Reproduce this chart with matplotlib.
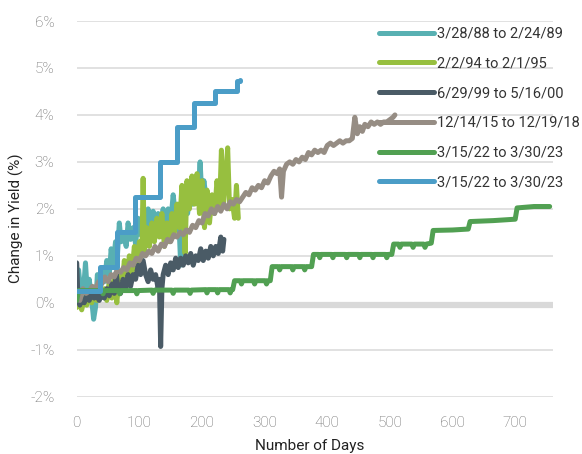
import matplotlib.pyplot as plt

# yield change (%) by trading day
teal_days = [0, 3, 6, 10, 14, 17, 20, 24, 27, 30, 33, 36, 40, 44, 48, 52, 55, 58, 62, 65,
             68, 71, 75, 79, 82, 86, 90, 94, 98, 102, 106, 110, 114, 118, 122, 126, 130, 134,
             138, 142, 146, 150, 154, 158, 162, 166, 169, 173, 177, 181, 185, 189, 193, 197,
             200, 203, 206]
teal_vals = [0.2, 0.7, 0.3, 0.1, 0.85, 0.2, 0.5, 0.05, -0.35, -0.1, 0.6, 0.3, 0.7, 0.45, 0.9,
             0.6, 1.15, 0.8, 1.3, 1.0, 1.7, 1.3, 1.5, 1.2, 1.7, 1.35, 1.6, 1.25, 1.8, 1.45, 1.75,
             1.5, 2.0, 1.55, 1.95, 1.6, 1.9, 1.65, 2.0, 1.6, 2.0, 1.7, 2.3, 1.8, 2.1, 0.8, 1.9,
             2.15, 1.9, 2.3, 2.1, 2.4, 2.2, 3.0, 2.2, 2.6, 2.3]

lgreen_days = [0, 4, 8, 12, 16, 20, 24, 28, 32, 36, 40, 44, 48, 52, 56, 60, 64, 68, 72, 76,
               80, 84, 88, 92, 96, 100, 104, 106, 108, 112, 116, 120, 124, 128, 132, 136, 140,
               144, 148, 152, 156, 160, 164, 168, 171, 173, 176, 180, 184, 188, 192, 196, 200,
               204, 208, 212, 216, 220, 224, 228, 231, 234, 238, 241, 244, 248, 252, 255, 258]
lgreen_vals = [-0.1, 0.0, -0.15, 0.1, -0.05, 0.2, 0.0, 0.3, 0.05, 0.4, 0.15, 0.3, 0.05, 0.45,
               0.1, 0.5, 0.0, 0.6, 0.3, 0.9, 0.5, 1.0, 0.6, 1.2, 0.7, 1.3, 1.0, 2.65, 1.1, 1.6,
               1.2, 1.7, 1.3, 1.8, 1.4, 1.9, 1.2, 1.7, 1.3, 1.9, 1.5, 2.1, 1.6, 2.5, 1.7, 1.05,
               2.6, 2.0, 2.7, 2.1, 2.75, 1.9, 2.6, 1.6, 2.4, 1.7, 2.3, 1.9, 2.6, 2.0, 3.25, 2.1,
               2.7, 3.3, 2.0, 2.2, 1.8, 2.5, 1.8]

dark_days = [0, 2, 5, 8, 12, 16, 20, 24, 28, 32, 36, 40, 44, 48, 52, 56, 60, 63, 66, 70, 74,
             78, 82, 86, 90, 94, 98, 102, 106, 110, 114, 118, 122, 126, 130, 132, 134, 136,
             138, 142, 146, 150, 154, 158, 162, 166, 170, 174, 178, 182, 186, 190, 194, 198,
             202, 206, 210, 214, 218, 222, 226, 230, 233, 235]
dark_vals = [0.85, 0.1, -0.05, 0.1, 0.0, 0.15, 0.05, 0.2, 0.1, 0.15, 0.05, 0.2, 0.1, 0.3, 0.15,
             0.4, 0.2, 0.65, 0.3, 0.2, 0.5, 0.3, 0.6, 0.35, 0.6, 0.5, 0.8, 0.6, 0.9, 0.6, 0.45,
             0.7, 0.5, 0.6, 0.3, 0.5, -0.93, 0.3, 0.6, 0.8, 0.6, 0.85, 0.7, 0.95, 0.75, 0.95,
             0.8, 1.0, 0.85, 1.05, 0.8, 1.0, 0.9, 1.15, 0.9, 1.1, 0.95, 1.2, 1.0, 1.2, 1.05,
             1.4, 1.1, 1.35]

taupe_days = [0, 5, 10, 15, 20, 25, 30, 35, 40, 45, 50, 55, 60, 65, 70, 75, 80, 85, 90, 95,
              100, 105, 110, 115, 120, 125, 130, 135, 140, 145, 150, 155, 160, 165, 170, 175,
              180, 185, 190, 195, 200, 205, 210, 215, 220, 225, 230, 235, 240, 245, 250, 255,
              260, 265, 270, 275, 280, 285, 290, 295, 300, 305, 310, 315, 320, 324, 327, 330,
              335, 340, 345, 350, 355, 360, 365, 370, 375, 380, 385, 390, 395, 400, 405, 410,
              415, 420, 425, 430, 435, 440, 444, 448, 452, 456, 460, 465, 470, 475, 480, 485,
              490, 495, 500, 505, 508]
taupe_vals = [0.2, 0.05, 0.3, 0.2, 0.25, 0.35, 0.3, 0.45, 0.4, 0.55, 0.45, 0.6, 0.55, 0.7,
              0.65, 0.75, 0.7, 0.85, 0.8, 0.95, 0.9, 1.05, 1.0, 1.1, 1.05, 1.2, 1.1, 1.25, 1.2,
              1.35, 1.3, 1.45, 1.4, 1.5, 1.45, 1.55, 1.5, 1.65, 1.6, 1.75, 1.7, 1.9, 1.85, 2.0,
              1.9, 2.05, 1.95, 2.1, 2.0, 2.15, 2.1, 2.2, 2.15, 2.25, 2.35, 2.3, 2.45, 2.4, 2.5,
              2.45, 2.6, 2.55, 2.7, 2.8, 2.75, 2.85, 2.25, 2.8, 2.95, 3.0, 2.95, 3.05, 3.0, 3.1,
              3.05, 3.2, 3.15, 3.25, 3.2, 3.25, 3.2, 3.35, 3.4, 3.35, 3.4, 3.45, 3.4, 3.45,
              3.45, 3.5, 3.95, 3.6, 3.75, 3.65, 3.8, 3.75, 3.85, 3.8, 3.85, 3.8, 3.85, 3.85,
              3.9, 3.95, 4.0]

green_days = [0, 3, 5,
              40, 42, 44, 67, 69, 71, 94, 96, 98, 120, 122, 124, 152, 154, 156,
              179, 181, 183, 206, 208, 210, 223, 225, 227, 243, 245, 247,
              249, 252, 261, 263, 265, 282, 284, 286, 301, 303, 305,
              309, 312, 322, 324, 326, 343, 345, 347, 362, 364, 366,
              375, 378, 386, 388, 390, 407, 409, 411, 429, 431, 433, 450, 452, 454,
              471, 473, 475, 493, 495, 497,
              503, 506, 514, 516, 518, 535, 537, 539, 554, 556, 558,
              566, 569, 600, 625, 628, 665, 700, 703, 730, 755]
green_vals = [0.05, 0.26, 0.26,
              0.26, 0.19, 0.26, 0.26, 0.19, 0.26, 0.26, 0.19, 0.26, 0.27, 0.2, 0.27, 0.27, 0.2, 0.27,
              0.27, 0.2, 0.27, 0.28, 0.21, 0.28, 0.28, 0.21, 0.28, 0.28, 0.21, 0.28,
              0.28, 0.47, 0.47, 0.4, 0.47, 0.47, 0.4, 0.47, 0.47, 0.4, 0.47,
              0.47, 0.77, 0.77, 0.7, 0.77, 0.77, 0.7, 0.77, 0.77, 0.7, 0.77,
              0.77, 1.03, 1.03, 0.96, 1.03, 1.03, 0.96, 1.03, 1.03, 0.96, 1.03, 1.03, 0.96, 1.03,
              1.03, 0.96, 1.03, 1.03, 0.96, 1.03,
              1.03, 1.25, 1.25, 1.18, 1.25, 1.25, 1.18, 1.25, 1.25, 1.18, 1.25,
              1.27, 1.54, 1.55, 1.57, 1.73, 1.75, 1.78, 2.02, 2.05, 2.05]

blue_days = [0, 37, 64, 93, 133, 160, 187, 220, 256, 261]
blue_vals = [0.25, 0.77, 1.5, 2.25, 3.0, 3.75, 4.25, 4.5, 4.72, 4.75]

labels = ['3/28/88 to 2/24/89', '2/2/94 to 2/1/95', '6/29/99 to 5/16/00',
          '12/14/15 to 12/19/18', '3/15/22 to 3/30/23', '3/15/22 to 3/30/23']
colors = ['#58b0b2', '#97bf3f', '#4a5b66', '#968d84', '#51a052', '#4b9dc7']

plt.rcParams['font.family'] = ['Roboto', 'DejaVu Sans']

fig = plt.figure(figsize=(5.82, 4.54), dpi=100)
ax = fig.add_axes([0.1318, 0.1262, 0.818, 0.8275])

for y in [-2, -1, 1, 2, 3, 4, 5, 6]:
    ax.axhline(y, color='#dcdcdc', lw=1.2, zorder=0)
ax.axhline(-0.05, color='#d9d9d9', lw=4.5, zorder=0)

lw = 3.6
series = [(teal_days, teal_vals), (lgreen_days, lgreen_vals), (dark_days, dark_vals),
          (taupe_days, taupe_vals), (green_days, green_vals)]
for (d, v), lab, c in zip(series, labels[:5], colors[:5]):
    ax.plot(d, v, color=c, lw=lw, label=lab, solid_capstyle='round', solid_joinstyle='round')
ax.plot(blue_days, blue_vals, color=colors[5], lw=lw, label=labels[5], drawstyle='steps-post',
        solid_capstyle='round', solid_joinstyle='round')

ax.set_xlim(0, 760)
ax.set_ylim(-2, 6)
ax.set_xticks(range(0, 701, 100))
ax.set_yticks(range(-2, 7))
ax.set_yticklabels([f'{v}%' for v in range(-2, 7)])
for s in ax.spines.values():
    s.set_visible(False)
ax.tick_params(length=0, labelsize=11, labelcolor='#666666')
for t in ax.get_xticklabels() + ax.get_yticklabels():
    t.set_fontweight('light')
ax.tick_params(axis='y', pad=16)
ax.tick_params(axis='x', pad=14)

ax.set_xlabel('Number of Days', fontsize=11, color='#222222')
ax.set_ylabel('Change in Yield (%)', fontsize=11, color='#222222')
ax.xaxis.set_label_coords(0.49, -0.112)
ax.yaxis.set_label_coords(-0.11, 0.475)

leg = ax.legend(loc='upper left', bbox_to_anchor=(0.635, 0.985), frameon=False, fontsize=10.5,
                handlelength=3.8, handletextpad=0.2, labelspacing=1.08, borderaxespad=0,
                borderpad=0)
for t in leg.get_texts():
    t.set_color('#333333')

fig.savefig('out.png', dpi=100)
